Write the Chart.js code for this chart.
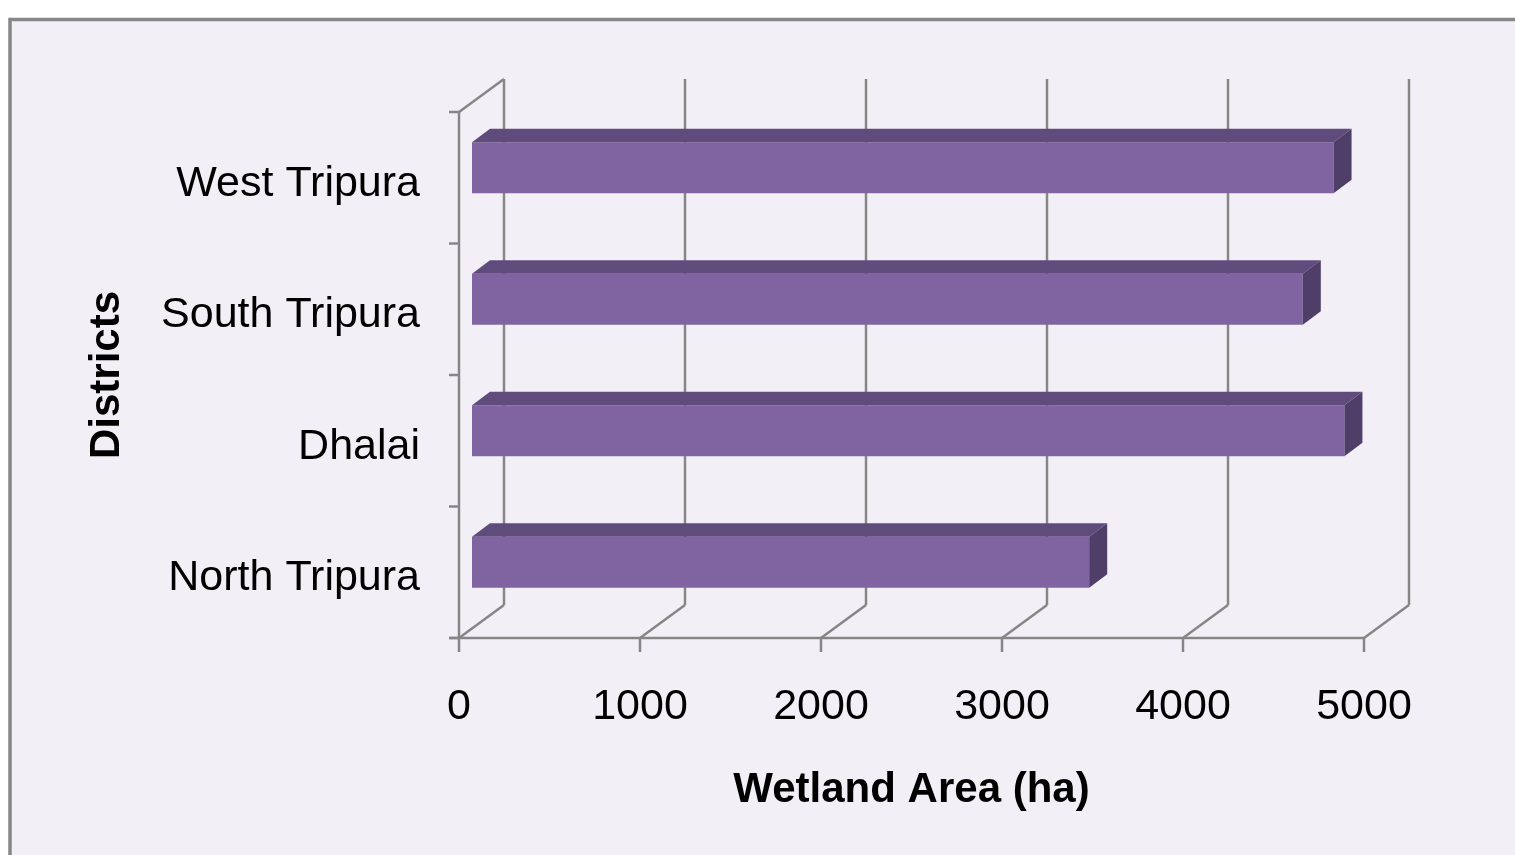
<!DOCTYPE html>
<html>
<head>
<meta charset="utf-8">
<script src="https://cdn.jsdelivr.net/npm/chart.js@4.4.1/dist/chart.umd.min.js"></script>
<style>
  html, body { margin: 0; padding: 0; background: #ffffff; }
  #wrap { width: 1515px; height: 855px; }
</style>
</head>
<body>
<div id="wrap"><canvas id="c" width="1515" height="855"></canvas></div>
<script>
// ---- data ----
const districts = ['West Tripura', 'South Tripura', 'Dhalai', 'North Tripura'];
const wetlandArea = [4760, 4590, 4820, 3410];
const xTicks = [0, 1000, 2000, 3000, 4000, 5000];

// ---- style ----
const FONT = '"Liberation Sans", Arial, sans-serif';
const GRID = '#868686';
const FRONT = '#8064a2';
const TOPF = '#604b7d';
const SIDEF = '#4f3e68';
const DX = 45, DY = -33;      // full depth of the 3D box
const BDX = 13, BDY = -10;    // bar front-face offset
const SX = 18, SY = -13.5;    // bar depth

function line(ctx, x1, y1, x2, y2) {
  ctx.beginPath(); ctx.moveTo(x1, y1); ctx.lineTo(x2, y2); ctx.stroke();
}

const threeD = {
  id: 'threeD',
  beforeDraw(chart) {
    const ctx = chart.ctx;
    ctx.save();
    ctx.fillStyle = '#ffffff';
    ctx.fillRect(0, 0, chart.width, chart.height);
    ctx.fillStyle = '#f2f0f6';
    ctx.fillRect(10, 19.5, 1530, 860);
    ctx.strokeStyle = '#878787';
    ctx.lineWidth = 3.5;
    ctx.strokeRect(10, 19.5, 1530, 860);
    ctx.restore();
  },
  beforeDatasetsDraw(chart) {
    const ctx = chart.ctx;
    const { left, right, top, bottom } = chart.chartArea;
    const xs = chart.scales.x, ys = chart.scales.y;
    ctx.save();
    ctx.strokeStyle = GRID;
    ctx.lineWidth = 2.5;
    ctx.lineCap = 'butt';
    xs.ticks.forEach(t => {
      const px = xs.getPixelForValue(t.value);
      line(ctx, px, bottom, px + DX, bottom + DY);
      line(ctx, px + DX, bottom + DY, px + DX, top + DY);
      line(ctx, px, bottom, px, bottom + 14);
    });
    line(ctx, left - 10, bottom, right, bottom);
    line(ctx, left, bottom, left, top);
    line(ctx, left, top, left + DX, top + DY);
    for (let i = 0; i <= districts.length; i++) {
      const py = ys.getPixelForValue(i - 0.5);
      line(ctx, left - 10, py, left, py);
    }
    ctx.restore();
    ctx.save();
    ctx.translate(BDX, BDY);
  },
  afterDatasetsDraw(chart) {
    const ctx = chart.ctx;
    ctx.restore();
    const meta = chart.getDatasetMeta(0);
    ctx.save();
    meta.data.forEach(bar => {
      const p = bar.getProps(['x', 'y', 'base', 'height'], true);
      const x0 = p.base + BDX, x1 = p.x + BDX;
      const yt = p.y - p.height / 2 + BDY, yb = p.y + p.height / 2 + BDY;
      ctx.fillStyle = TOPF;
      ctx.beginPath();
      ctx.moveTo(x0, yt); ctx.lineTo(x0 + SX, yt + SY);
      ctx.lineTo(x1 + SX, yt + SY); ctx.lineTo(x1, yt); ctx.closePath();
      ctx.fill();
      ctx.fillStyle = SIDEF;
      ctx.beginPath();
      ctx.moveTo(x1, yt); ctx.lineTo(x1 + SX, yt + SY);
      ctx.lineTo(x1 + SX, yb + SY); ctx.lineTo(x1, yb); ctx.closePath();
      ctx.fill();
    });
    ctx.restore();
  }
};

new Chart(document.getElementById('c'), {
  type: 'bar',
  data: {
    labels: districts,
    datasets: [{
      label: 'Wetland Area (ha)',
      data: wetlandArea,
      backgroundColor: FRONT,
      borderWidth: 0,
      categoryPercentage: 1,
      barPercentage: 0.388,
      clip: false
    }]
  },
  options: {
    indexAxis: 'y',
    responsive: false,
    animation: false,
    layout: { padding: { left: 82, right: 151, top: 112, bottom: 39 } },
    plugins: { legend: { display: false }, tooltip: { enabled: false } },
    scales: {
      x: {
        min: 0, max: 5000,
        afterBuildTicks(scale) { scale.ticks = xTicks.map(v => ({ value: v })); },
        afterFit(scale) { scale.height = 178; },
        grid: { display: false, drawTicks: false },
        border: { display: false },
        ticks: { color: '#000', font: { family: FONT, size: 43 }, padding: 43, maxRotation: 0,
                 callback: v => String(v) },
        title: { display: true, text: 'Wetland Area (ha)', color: '#000',
                 font: { family: FONT, size: 42, weight: 'bold' }, padding: 0 }
      },
      y: {
        afterFit(scale) { scale.width = 377; },
        grid: { display: false, drawTicks: false },
        border: { display: false },
        ticks: { color: '#000', font: { family: FONT, size: 43 }, padding: 39, labelOffset: 6 },
        title: { display: true, text: 'Districts', color: '#000',
                 font: { family: FONT, size: 42, weight: 'bold' }, padding: 0 }
      }
    }
  },
  plugins: [threeD]
});
</script>
</body>
</html>
